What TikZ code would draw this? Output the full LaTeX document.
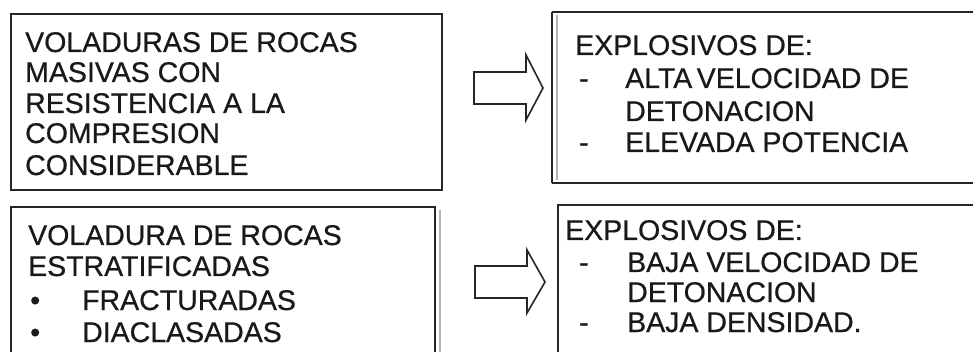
\documentclass[tikz,border=0pt]{standalone}
\usepackage{fontspec}
\setmainfont[FakeBold=0.6]{Liberation Sans}
\begin{document}
\begin{tikzpicture}[x=1pt,y=-1pt,
  boxline/.style={draw=black!85,line width=1.8pt},
  ghostline/.style={draw=black!30,line width=1.4pt},
  txt/.style={anchor=base west,inner sep=0pt,font=\fontsize{28.5}{30.7}\selectfont,text=black!90},
  blockarrow/.style={draw=black!85,line width=1.6pt,line join=miter,fill=white}]
\useasboundingbox (0,0) rectangle (973,352);

% frames
\draw[boxline] (11,14) rectangle (442,190);
\draw[boxline] (552,12) -- (552,183);
\draw[boxline] (552,12) -- (985,12);
\draw[boxline] (552,183) -- (985,183);
\draw[ghostline] (557,15) -- (557,180);
\draw[boxline] (11,360) -- (11,207) -- (435,207) -- (435,360);
\draw[ghostline] (440,210) -- (440,360);
\draw[boxline] (558,360) -- (558,205) -- (985,205);

% block arrows
\coordinate (a1) at (474,88);
\coordinate (a2) at (475,282);
\draw[blockarrow] (a1) ++(0,-16) -- ++(52,0) -- ++(0,-17) -- ++(17,33) -- ++(-17,32) -- ++(0,-16) -- ++(-52,0) -- cycle;
\draw[blockarrow] (a2) ++(0,-16) -- ++(52,0) -- ++(0,-16) -- ++(18,32) -- ++(-18,31) -- ++(0,-15) -- ++(-52,0) -- cycle;

% upper left
\node[txt] (l1) at (25,52) {VOLADURAS DE ROCAS};
\node[txt] (l2) at (25,82) {MASIVAS CON};
\node[txt] (l3) at (25,113) {RESISTENCIA A LA};
\node[txt] (l4) at (25,143) {COMPRESION};
\node[txt] (l5) at (25,175) {CONSIDERABLE};

% upper right
\node[txt] (r1) at (575,55) {EXPLOSIVOS DE:};
\node[txt] (r2d) at (579,88) {-};
\node[txt] (r2) at (625,88) {ALTA\hspace{-0.12em} VELOCIDAD DE};
\node[txt] (r3) at (625,121) {DETONACION};
\node[txt] (r4d) at (579,152) {-};
\node[txt] (r4) at (625,152) {ELEVADA POTENCIA};

% lower left
\node[txt] (m1) at (28,245) {VOLADURA DE ROCAS};
\node[txt] (m2) at (28,276) {ESTRATIFICADAS};
\node[txt] (m3b) at (30,310) {•};
\node[txt] (m3) at (82,310) {FRACTURADAS};
\node[txt] (m4b) at (30,342) {•};
\node[txt] (m4) at (82,342) {DIACLASADAS};

% lower right
\node[txt] (s1) at (565,240) {EXPLOSIVOS DE:};
\node[txt] (s2d) at (579,272) {-};
\node[txt] (s2) at (627,272) {BAJA VELOCIDAD DE};
\node[txt] (s3) at (627,302) {DETONACION};
\node[txt] (s4d) at (579,332) {-};
\node[txt] (s4) at (627,332) {BAJA DENSIDAD.};
\end{tikzpicture}
\end{document}
